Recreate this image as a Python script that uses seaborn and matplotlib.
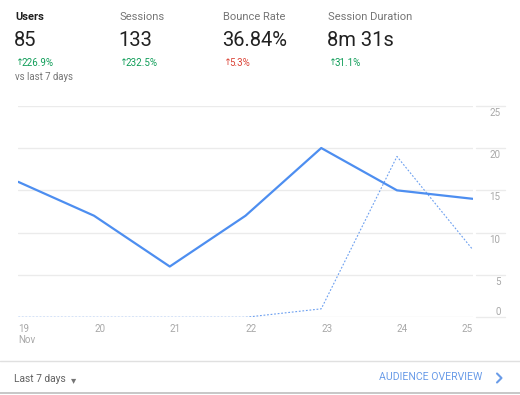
import seaborn as sns
import matplotlib.pyplot as plt
import matplotlib.transforms as mtrans
import pandas as pd

# chart data
days = [19, 20, 21, 22, 23, 24, 25]
day_labels = ["19\nNov", "20", "21", "22", "23", "24", "25"]
this_week = [16, 12, 6, 12, 20, 15, 14]
last_week = [0, 0, 0, 0, 1, 19, 8]
y_ticks = [0, 5, 10, 15, 20, 25]

# header metrics
metric_names = ["Users", "Sessions", "Bounce Rate", "Session Duration"]
metric_values = ["85", "133", "36.84%", "8m 31s"]
metric_changes = ["226.9%", "232.5%", "5.3%", "31.1%"]
change_good = [True, True, False, True]

df = pd.DataFrame({"day": days, "this_week": this_week, "last_week": last_week})

sns.set_theme(style="white")
plt.rcParams["font.family"] = ["Roboto", "DejaVu Sans"]

W, H = 520, 395
fig = plt.figure(figsize=(W / 100, H / 100), dpi=100)


def px(x, y):
    return x / W, 1 - y / H


blue = "#4d8ef0"
grid_c = "#ebebeb"
label_c = "#a8a8a8"

ax = fig.add_axes([18.3 / W, 1 - 317.3 / H, 454.4 / W, 211.6 / H])
sns.lineplot(data=df, x="day", y="last_week", ax=ax, color="#6b9ff0",
             linewidth=0.8, linestyle=(0, (1.6, 1.6)))
sns.lineplot(data=df, x="day", y="this_week", ax=ax, color=blue,
             linewidth=1.6)
ax.set_xlim(days[0], days[-1])
ax.set_ylim(0, 25)
ax.set_xlabel("")
ax.set_ylabel("")
for s in ax.spines.values():
    s.set_visible(False)

# horizontal grid, with a short piece right of the plot
for v in y_ticks:
    ax.axhline(v, color=grid_c, lw=1, zorder=0)
    ax.axhline(v, xmin=1.007, xmax=1.071, color=grid_c, lw=1,
               clip_on=False, zorder=0)

ax.set_xticks(days)
ax.set_xticklabels(day_labels)
ax.tick_params(axis="x", length=3, width=0.8, color="#d6d6d6",
               labelsize=7, labelcolor=label_c, pad=2)
for i, lab in enumerate(ax.get_xticklabels()):
    lab.set_ha("right" if i == len(days) - 1 else "left")
    lab.set_linespacing(1.1)

ax.yaxis.tick_right()
ax.set_yticks(y_ticks)
ax.set_yticklabels([str(v) for v in y_ticks])
ax.tick_params(axis="y", length=0, labelsize=7, labelcolor=label_c, pad=20)
for v, lab in zip(y_ticks, ax.get_yticklabels()):
    lab.set_ha("right")
    dy = 6 if v == 0 else -6
    lab.set_transform(lab.get_transform() +
                      mtrans.ScaledTranslation(0, dy / 100, fig.dpi_scale_trans))

# header
col_x = [15, 119, 222.7, 327.7]
for i, (name, val, chg, good) in enumerate(zip(metric_names, metric_values,
                                                metric_changes, change_good)):
    x = col_x[i]
    fig.text(*px(x, 16.5), name, fontsize=8, va="center",
             color="#212121" if i == 0 else "#757575",
             fontweight="bold" if i == 0 else "normal")
    fig.text(*px(x - 1, 41), val, fontsize=14.5, va="center", color="#212121")
    c = "#0f9d58" if good else "#db4437"
    fig.text(*px(x, 62.5), "\u2191", fontsize=6.8, va="center", color=c)
    fig.text(*px(x + 6.5, 62.5), chg, fontsize=7, va="center", color=c)
fig.text(*px(15, 77), "vs last 7 days", fontsize=6.9, va="center", color="#757575")

# footer
fig.add_artist(plt.Line2D([0, 1], [1 - 361 / H] * 2, color="#e0e0e0", lw=1))
fig.add_artist(plt.Line2D([0, 1], [1 - 393 / H] * 2, color="#bdbdbd", lw=1.2))
fig.text(*px(14, 379), "Last 7 days", fontsize=7.4, va="center", color="#616161")
fig.text(*px(71, 380.5), "\u25be", fontsize=7.5, va="center", color="#757575")
fig.text(*px(379, 377.5), "AUDIENCE OVERVIEW", fontsize=7.6, va="center",
         color="#6a9ce8")
fig.add_artist(plt.Line2D([497 / W, 501.5 / W, 497 / W],
                          [1 - 373.5 / H, 1 - 378 / H, 1 - 382.5 / H],
                          color="#6a9ce8", lw=1.5))

fig.savefig("out.png", dpi=100)
